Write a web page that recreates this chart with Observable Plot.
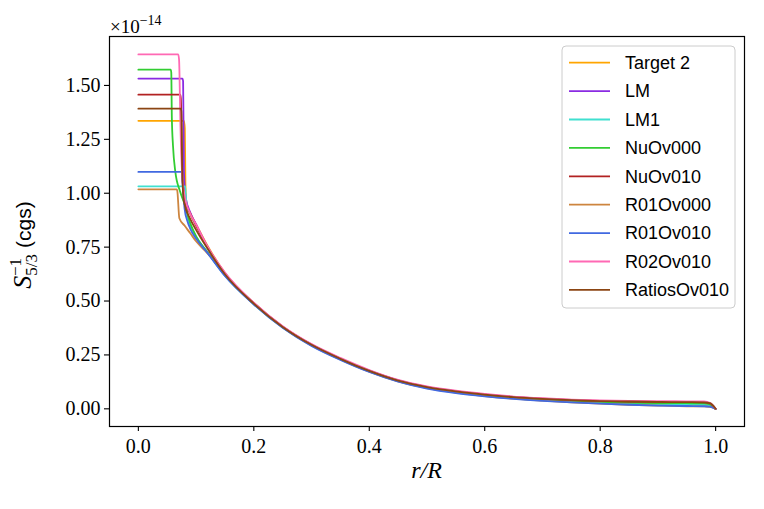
<!DOCTYPE html>
<html><head><meta charset="utf-8">
<script src="https://cdn.jsdelivr.net/npm/d3@7"></script>
<script src="https://cdn.jsdelivr.net/npm/@observablehq/plot@0.6"></script>
<style>
body{margin:0;background:#fff;}
#wrap{position:relative;width:764px;height:509px;}
</style></head><body><div id="wrap"></div>
<script>
const seriesNames = ["Target 2","LM","LM1","NuOv000","NuOv010","R01Ov000","R01Ov010","R02Ov010","RatiosOv010"];
const seriesColors = ["#ffa500","#8a2be2","#40e0d0","#32cd32","#b22222","#cd853f","#4169e1","#ff69b4","#8b4513"];
const xTicks = [0, 0.2, 0.4, 0.6, 0.8, 1.0];
const yTicks = [0, 0.25, 0.5, 0.75, 1.0, 1.25, 1.5];

// shared radius grid for the outer part of every profile
const tailR = [0.15,0.2,0.25,0.3,0.35,0.4,0.45,0.5,0.55,0.6,0.65,0.7,0.75,0.8,0.85,0.9,0.95,0.98,0.99,1.0];

// Target 2
const target2CoreR = [0,0.079,0.0805,0.0815,0.083,0.09,0.10,0.12];
const target2CoreY = [1.336,1.336,1.30,1.05,0.96,0.905,0.855,0.755];
const target2TailY = [0.630,0.491,0.381,0.297,0.232,0.175,0.130,0.099,0.078,0.063,0.051,0.042,0.035,0.030,0.026,0.024,0.022,0.021,0.018,0.000];
// LM
const lmCoreR = [0,0.0765,0.0775,0.079,0.082,0.09,0.10,0.12];
const lmCoreY = [1.532,1.532,1.52,1.10,0.98,0.91,0.855,0.75];
const lmTailY = [0.626,0.490,0.381,0.298,0.233,0.177,0.132,0.101,0.081,0.066,0.054,0.046,0.039,0.035,0.032,0.030,0.029,0.028,0.024,0.000];
// LM1
const lm1CoreR = [0,0.081,0.082,0.085,0.09,0.10,0.12];
const lm1CoreY = [1.032,1.032,1.00,0.89,0.85,0.80,0.725];
const lm1TailY = [0.618,0.485,0.377,0.294,0.229,0.173,0.128,0.097,0.076,0.061,0.049,0.040,0.033,0.028,0.024,0.021,0.019,0.018,0.015,0.000];
// NuOv000
const nuOv000CoreR = [0,0.056,0.057,0.058,0.060,0.064,0.072,0.08,0.09,0.10,0.12];
const nuOv000CoreY = [1.573,1.573,1.56,1.35,1.22,1.10,1.01,0.95,0.86,0.80,0.725];
const nuOv000TailY = [0.620,0.487,0.379,0.296,0.231,0.175,0.130,0.100,0.079,0.064,0.052,0.044,0.037,0.032,0.029,0.027,0.026,0.025,0.021,0.000];
// NuOv010
const nuOv010CoreR = [0,0.0725,0.0735,0.076,0.08,0.09,0.10,0.12];
const nuOv010CoreY = [1.457,1.457,1.44,1.10,0.97,0.905,0.85,0.748];
const nuOv010TailY = [0.628,0.490,0.381,0.298,0.233,0.177,0.132,0.102,0.082,0.067,0.055,0.047,0.041,0.037,0.034,0.032,0.031,0.030,0.025,0.000];
// R01Ov000
const r01Ov000CoreR = [0,0.0665,0.0675,0.071,0.08,0.09,0.10,0.115,0.13];
const r01Ov000CoreY = [1.018,1.018,1.01,0.884,0.85,0.814,0.777,0.735,0.69];
const r01Ov000TailY = [0.622,0.487,0.378,0.294,0.229,0.172,0.127,0.096,0.075,0.059,0.047,0.038,0.030,0.024,0.019,0.015,0.012,0.011,0.009,0.000];
// R01Ov010
const r01Ov010CoreR = [0,0.075,0.0765,0.08,0.085,0.09,0.10,0.12];
const r01Ov010CoreY = [1.099,1.099,1.05,0.93,0.87,0.835,0.79,0.722];
const r01Ov010TailY = [0.616,0.484,0.376,0.292,0.227,0.171,0.126,0.094,0.073,0.058,0.046,0.037,0.030,0.024,0.019,0.015,0.013,0.012,0.010,0.000];
// R02Ov010
const r02Ov010CoreR = [0,0.069,0.0705,0.073,0.076,0.08,0.09,0.10,0.12];
const r02Ov010CoreY = [1.644,1.644,1.62,1.30,1.08,0.99,0.905,0.855,0.752];
const r02Ov010TailY = [0.632,0.492,0.383,0.300,0.236,0.180,0.134,0.104,0.084,0.069,0.057,0.049,0.043,0.039,0.037,0.036,0.035,0.034,0.028,0.000];
// RatiosOv010
const ratiosOv010CoreR = [0,0.0735,0.0745,0.076,0.079,0.09,0.10,0.12];
const ratiosOv010CoreY = [1.392,1.392,1.38,1.10,0.96,0.88,0.83,0.742];
const ratiosOv010TailY = [0.624,0.488,0.380,0.297,0.232,0.176,0.131,0.101,0.081,0.066,0.054,0.046,0.040,0.036,0.034,0.032,0.031,0.030,0.026,0.000];

const profiles = [
  [target2CoreR, target2CoreY, target2TailY],
  [lmCoreR, lmCoreY, lmTailY],
  [lm1CoreR, lm1CoreY, lm1TailY],
  [nuOv000CoreR, nuOv000CoreY, nuOv000TailY],
  [nuOv010CoreR, nuOv010CoreY, nuOv010TailY],
  [r01Ov000CoreR, r01Ov000CoreY, r01Ov000TailY],
  [r01Ov010CoreR, r01Ov010CoreY, r01Ov010TailY],
  [r02Ov010CoreR, r02Ov010CoreY, r02Ov010TailY],
  [ratiosOv010CoreR, ratiosOv010CoreY, ratiosOv010TailY]
];

const rows = [];
profiles.forEach(([cr, cy, ty], i) => {
  cr.forEach((r, j) => rows.push({series: seriesNames[i], r, s: cy[j]}));
  tailR.forEach((r, j) => rows.push({series: seriesNames[i], r, s: ty[j]}));
});

const W = 764, H = 509, mL = 109, mR = 20, mT = 36, mB = 83;

const chart = Plot.plot({
  width: W, height: H,
  marginLeft: mL, marginRight: mR, marginTop: mT, marginBottom: mB,
  style: {fontFamily: "'Liberation Serif', serif", fontSize: "20px", background: "white", color: "black", overflow: "visible"},
  x: {domain: [-0.05, 1.05]},
  y: {domain: [-0.082, 1.727]},
  color: {domain: seriesNames, range: seriesColors},
  marks: [
    Plot.line(rows, {x: "r", y: "s", z: "series", stroke: "series", strokeWidth: 1.8, curve: "monotone-x"}),
    Plot.frame({stroke: "black", strokeWidth: 1.2}),
    Plot.axisX({ticks: xTicks, tickFormat: d3.format(".1f"), tickSize: 5, tickPadding: 7, fontSize: 20, label: null, strokeWidth: 1.1}),
    Plot.axisY({ticks: yTicks, tickFormat: d3.format(".2f"), tickSize: 5, tickPadding: 4, fontSize: 20, label: null, strokeWidth: 1.1})
  ]
});
document.getElementById("wrap").appendChild(chart);

const svg = d3.select(chart);
const serif = "'Liberation Serif', serif";
const sans = "'Liberation Sans', sans-serif";

// offset text ×10^-14
const off = svg.append("text").attr("x", mL + 1).attr("y", mT - 3)
  .style("font-family", serif).style("font-size", "19px").style("text-anchor", "start").attr("fill", "black");
off.append("tspan").text("×10");
off.append("tspan").attr("dy", -8).style("font-size", "14px").text("−14");

// x label
svg.append("text").attr("x", mL + (W - mL - mR) / 2).attr("y", 478)
  .style("text-anchor", "middle").style("font-family", serif).style("font-size", "24px")
  .style("font-style", "italic").attr("fill", "black").text("r/R");

// y label
const yl = svg.append("text")
  .attr("transform", `translate(31,${mT + (H - mT - mB) / 2 + 14}) rotate(-90)`)
  .style("text-anchor", "middle").attr("fill", "black").style("font-size", "26px");
yl.append("tspan").style("font-family", serif).style("font-style", "italic").text("S");
yl.append("tspan").style("font-family", serif).style("font-size", "17px").attr("dy", 6).text("5/3");
yl.append("tspan").style("font-family", serif).style("font-size", "17px").attr("dx", -22).attr("dy", -16).text("−1");
yl.append("tspan").style("font-family", sans).style("font-size", "21px").attr("dx", 10).attr("dy", 10).text("(cgs)");

// legend
const lg = svg.append("g");
lg.append("rect").attr("x", 562).attr("y", 46).attr("width", 173).attr("height", 262)
  .attr("rx", 4).attr("fill", "white").attr("fill-opacity", 0.8).attr("stroke", "#cccccc");
seriesNames.forEach((name, i) => {
  const yy = 62.7 + i * 28.4;
  lg.append("line").attr("x1", 569).attr("x2", 610).attr("y1", yy).attr("y2", yy)
    .attr("stroke", seriesColors[i]).attr("stroke-width", 1.8);
  lg.append("text").attr("x", 625).attr("y", yy).attr("dy", "0.35em")
    .style("text-anchor", "start").style("font-family", sans).style("font-size", "18px")
    .attr("fill", "black").text(name);
});
</script></body></html>
